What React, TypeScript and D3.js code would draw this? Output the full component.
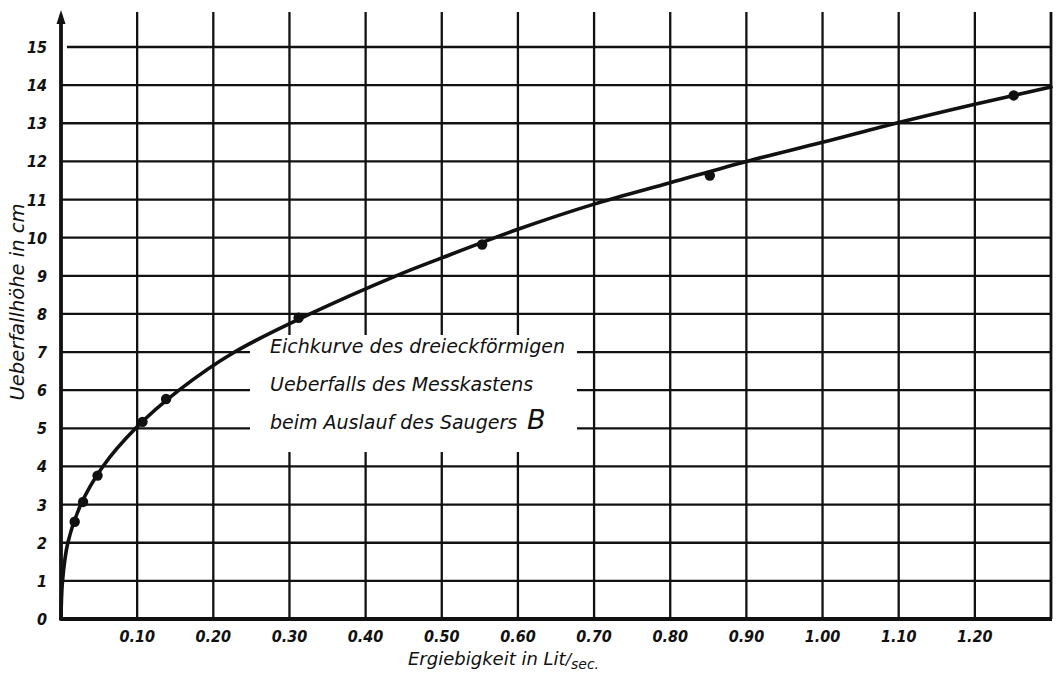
import React from "react";
import * as d3 from "d3";

// ---- data ----
const xTickValues = [0.1, 0.2, 0.3, 0.4, 0.5, 0.6, 0.7, 0.8, 0.9, 1.0, 1.1, 1.2];
const xTickLabels = ["0.10", "0.20", "0.30", "0.40", "0.50", "0.60", "0.70", "0.80", "0.90", "1.00", "1.10", "1.20"];
const xGridValues = [0.1, 0.2, 0.3, 0.4, 0.5, 0.6, 0.7, 0.8, 0.9, 1.0, 1.1, 1.2, 1.3];
const yTickValues = [0, 1, 2, 3, 4, 5, 6, 7, 8, 9, 10, 11, 12, 13, 14, 15];
const yTickLabels = ["0", "1", "2", "3", "4", "5", "6", "7", "8", "9", "10", "11", "12", "13", "14", "15"];

// measured points (Ergiebigkeit Lit/sec, Ueberfallhöhe cm)
const measuredQ = [0.018, 0.029, 0.048, 0.107, 0.138, 0.312, 0.553, 0.852, 1.251];
const measuredH = [2.55, 3.07, 3.76, 5.17, 5.77, 7.9, 9.82, 11.63, 13.73];

// calibration curve (Eichkurve)
const curveQ = [0, 0.002, 0.009, 0.026, 0.055, 0.098, 0.155, 0.228, 0.327, 0.44, 0.5, 0.6, 0.7, 0.8, 0.9, 1.0, 1.1, 1.2, 1.3];
const curveH = [0, 1, 2, 3, 4, 5, 6, 7, 8, 9, 9.47, 10.22, 10.88, 11.44, 12.0, 12.5, 13.02, 13.5, 13.95];

const annotationLines = ["Eichkurve des dreieckförmigen", "Ueberfalls des Messkastens", "beim Auslauf des Saugers"];
const annotationLetter = "B";

const W = 1057;
const H = 675;

export default function App() {
  const x = d3.scaleLinear().domain([0, 1.3]).range([61, 1051]);
  const y = d3.scaleLinear().domain([0, 15]).range([619, 47]);

  const curvePts: [number, number][] = curveQ.map((q, i) => [x(q), y(curveH[i])]);
  const line = d3.line().curve(d3.curveCatmullRom.alpha(0.5));
  const curvePath = line(curvePts) || "";

  const gridTop = 12;
  const ink = "#111";
  const tickFont = "'DejaVu Sans Condensed', 'DejaVu Sans', sans-serif";

  // blanked region behind the annotation
  const boxX0 = 250, boxX1 = 577, boxY0 = 335, boxY1 = 452;

  return (
    <svg
      width={W}
      height={H}
      viewBox={`0 0 ${W} ${H}`}
      style={{ position: "absolute", left: 0, top: 0, background: "#fff" }}
    >
      <rect x={0} y={0} width={W} height={H} fill="#fff" />

      {/* horizontal grid lines */}
      {yTickValues.filter((v) => v > 0).map((v) => (
        <line
          key={"h" + v}
          x1={v === 15 ? x(0) + 6 : x(0)}
          x2={x(1.3)}
          y1={y(v)}
          y2={y(v)}
          stroke={ink}
          strokeWidth={2.3}
        />
      ))}

      {/* vertical grid lines */}
      {xGridValues.map((v) => (
        <line
          key={"v" + v}
          x1={x(v)}
          x2={x(v)}
          y1={y(0)}
          y2={gridTop}
          stroke={ink}
          strokeWidth={v === 1.3 ? 2.8 : 2.3}
        />
      ))}

      {/* white area behind the annotation */}
      <rect x={boxX0} y={boxY0} width={boxX1 - boxX0} height={boxY1 - boxY0} fill="#fff" />

      {/* axes */}
      <line x1={x(0)} x2={x(1.3) + 1} y1={y(0)} y2={y(0)} stroke={ink} strokeWidth={3.8} />
      <line x1={x(0)} x2={x(0)} y1={y(0) + 1.5} y2={gridTop + 8} stroke={ink} strokeWidth={3.8} />
      <path
        d={`M${x(0)},${gridTop - 2} L${x(0) - 4.5},${gridTop + 12} L${x(0) + 4.5},${gridTop + 12} Z`}
        fill={ink}
      />

      {/* y tick labels */}
      {yTickValues.map((v, i) => (
        <text
          key={"yl" + v}
          x={47}
          y={y(v) + 6}
          textAnchor="end"
          fontFamily={tickFont}
          fontStyle="italic"
          fontWeight="bold"
          fontSize={16}
          fill={ink}
        >
          {yTickLabels[i]}
        </text>
      ))}

      {/* x tick labels */}
      {xTickValues.map((v, i) => (
        <text
          key={"xl" + v}
          x={x(v)}
          y={642}
          textAnchor="middle"
          fontFamily={tickFont}
          fontStyle="italic"
          fontWeight="bold"
          fontSize={16}
          fill={ink}
        >
          {xTickLabels[i]}
        </text>
      ))}

      {/* axis titles */}
      <text
        transform="translate(24,302) rotate(-90)"
        textAnchor="middle"
        fontFamily="'DejaVu Sans', sans-serif"
        fontStyle="italic"
        fontSize={19.5}
        fill={ink}
      >
        Ueberfallhöhe in cm
      </text>
      <text
        x={408}
        y={665}
        fontFamily="'DejaVu Sans', sans-serif"
        fontStyle="italic"
        fontSize={18}
        fill={ink}
      >
        Ergiebigkeit in Lit
        <tspan fontSize={16}>/</tspan>
        <tspan fontSize={14} dy={4}>sec.</tspan>
      </text>

      {/* calibration curve */}
      <path d={curvePath} fill="none" stroke={ink} strokeWidth={3.6} strokeLinejoin="round" strokeLinecap="round" />

      {/* measured points */}
      {measuredQ.map((q, i) => (
        <circle key={"p" + i} cx={x(q)} cy={y(measuredH[i])} r={5.2} fill={ink} />
      ))}

      {/* annotation */}
      {annotationLines.map((t, i) => (
        <text
          key={"a" + i}
          x={270}
          y={y(7 - i) + 1}
          fontFamily="'DejaVu Sans', sans-serif"
          fontStyle="italic"
          fontSize={19}
          fill={ink}
        >
          {t}
          {i === 2 ? (
            <tspan fontSize={27} dx={10}>
              {annotationLetter}
            </tspan>
          ) : null}
        </text>
      ))}
    </svg>
  );
}
